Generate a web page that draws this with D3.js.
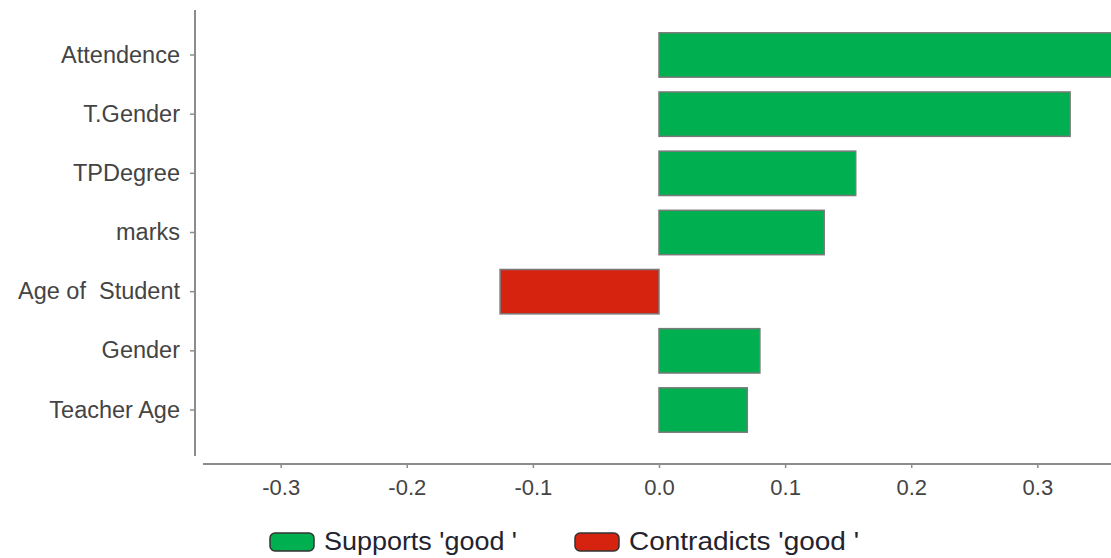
<!DOCTYPE html>
<html><head><meta charset="utf-8">
<script src="https://cdn.jsdelivr.net/npm/d3@7"></script>
<style>body{margin:0;background:#fff}svg{display:block}</style>
</head><body>
<svg id="c" width="1111" height="558"></svg>
<script>
const features = ["Attendence","T.Gender","TPDegree","marks","Age of  Student","Gender","Teacher Age"];
const weights  = [0.38, 0.326, 0.156, 0.131, -0.126, 0.080, 0.070];
const xTicks   = [-0.3,-0.2,-0.1,0.0,0.1,0.2,0.3];
const legendLabels = ["Supports 'good '", "Contradicts 'good '"];
const colors = {pos:"#00b050", neg:"#d62310"};

const svg = d3.select("#c");
const x = d3.scaleLinear().domain([-0.36, 0.36]).range([205, 1113]);
const y = d3.scaleBand().domain(features).range([18, 447]).padding(0.25);

svg.append("g").selectAll("rect").data(features).join("rect")
  .attr("x", (d,i) => x(Math.min(0, weights[i])))
  .attr("width", (d,i) => Math.abs(x(weights[i]) - x(0)))
  .attr("y", d => y(d))
  .attr("height", y.bandwidth())
  .attr("fill", (d,i) => weights[i] >= 0 ? colors.pos : colors.neg)
  .attr("stroke", "#7a7a7a").attr("stroke-width", 1.5);

const font = "Liberation Sans, Arial, sans-serif";
// y axis
const ya = svg.append("g").attr("transform","translate(195,0)")
  .call(d3.axisLeft(y).tickSize(5).tickPadding(10));
ya.select(".domain").attr("d","M0,10V456");
ya.selectAll(".tick text").attr("font-size",23.5).style("white-space","pre");
// x axis
const xa = svg.append("g").attr("transform","translate(0,464)")
  .call(d3.axisBottom(x).tickValues(xTicks).tickFormat(d => d3.format(".1f")(d).replace("\u2212","-")).tickSize(4).tickPadding(11));
xa.select(".domain").attr("d","M203,0H1111");
xa.selectAll(".tick text").attr("font-size",22);

svg.selectAll(".domain").attr("stroke","#8c8c8c").attr("stroke-width",2);
svg.selectAll(".tick line").attr("stroke","#8c8c8c").attr("stroke-width",1.5);
svg.selectAll(".tick text").attr("font-family",font).attr("fill","#444");

// legend
const lg = svg.append("g");
const lx = [270, 575];
const lw = [193, 230];
legendLabels.forEach((t,i) => {
  lg.append("rect").attr("x", lx[i]).attr("y", 533).attr("width", 44).attr("height", 18)
    .attr("rx", 5).attr("fill", i===0?colors.pos:colors.neg).attr("stroke","#333").attr("stroke-width",1.5);
  lg.append("text").attr("x", lx[i]+54).attr("y", 550).text(t)
    .style("white-space","pre")
    .attr("textLength", lw[i]).attr("lengthAdjust","spacingAndGlyphs")
    .attr("font-family",font).attr("font-size",25).attr("fill","#23232f");
});
</script>
</body></html>
